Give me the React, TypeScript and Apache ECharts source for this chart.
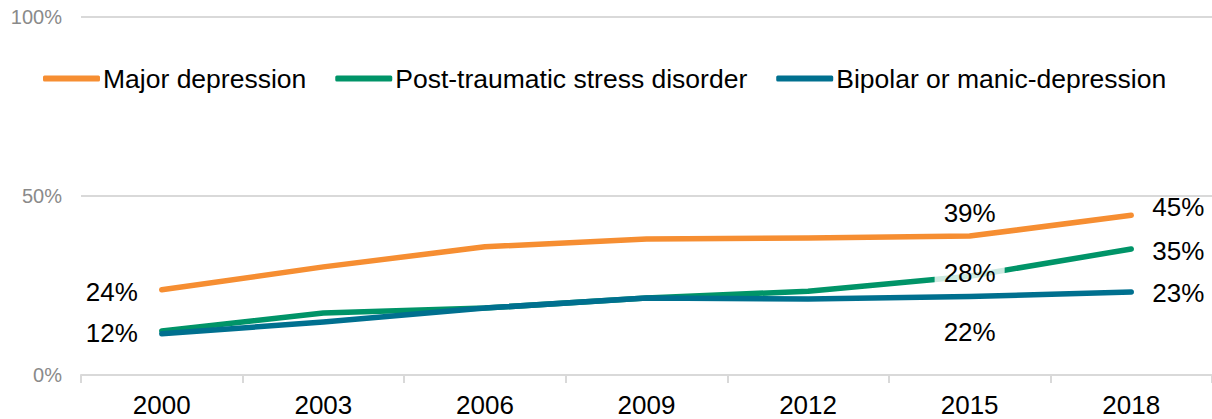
import React, { useEffect, useRef } from "react";
import * as echarts from "echarts";

const years = ["2000", "2003", "2006", "2009", "2012", "2015", "2018"];
const majorDepression = [23.8, 30.2, 35.8, 38, 38.3, 38.8, 44.6];
const ptsd = [12.3, 17.3, 18.7, 21.5, 23.4, 27.6, 35.2];
const bipolar = [11.5, 14.8, 18.7, 21.5, 21.2, 21.9, 23.2];
const seriesNames = ["Major depression", "Post-traumatic stress disorder", "Bipolar or manic-depression"];
const colors = ["#F68E32", "#009468", "#00708F"];
const yTicks = [0, 50, 100];

const FONT = "'Liberation Sans', Arial, sans-serif";

type LabelPos = "left" | "right" | "top" | "bottom" | "inside" | null;

function buildData(values: number[], positions: LabelPos[], extra: any[] = []) {
  return values.map((v, i) => {
    const pos = positions[i];
    if (!pos) return { value: v, label: { show: false } };
    const dist = pos === "left" ? 24 : pos === "right" ? 21 : pos === "top" ? 10 : pos === "bottom" ? 22 : 0;
    return {
      value: v,
      label: {
        show: true,
        position: pos,
        distance: dist,
        formatter: (p: any) => Math.round(p.value) + "%",
        color: "#000",
        fontSize: 26,
        fontFamily: FONT,
        ...(extra[i] || {}),
      },
    };
  });
}

export default function App() {
  const ref = useRef<HTMLDivElement>(null);
  useEffect(() => {
    document.body.style.margin = "0";
    const chart = echarts.init(ref.current!, null, { renderer: "svg" });
    const lineSeries = (name: string, data: any[], color: string, z: number) => ({
      name,
      type: "line",
      data,
      symbol: "circle",
      symbolSize: 0,
      showSymbol: true,
      z,
      lineStyle: { width: 5.5, color, cap: "round", join: "round" },
      itemStyle: { color },
      emphasis: { disabled: true },
    });
    chart.setOption({
      animation: false,
      grid: { left: 81, right: 0, top: 17, bottom: 44 },
      legend: {
        top: 60,
        left: 38,
        itemWidth: 57,
        itemHeight: 6,
        itemGap: 29,
        icon: "roundRect",
        textStyle: { fontSize: 26.5, color: "#000", fontFamily: FONT, padding: [0, 0, 0, -2] },
        data: seriesNames,
      },
      xAxis: {
        type: "category",
        data: years,
        boundaryGap: true,
        axisLine: { lineStyle: { color: "#d9d9d9", width: 2 } },
        axisTick: { show: true, length: 8, lineStyle: { color: "#d9d9d9", width: 2 } },
        axisLabel: { color: "#000", fontSize: 26, fontFamily: FONT, margin: 17 },
      },
      yAxis: {
        type: "value",
        min: yTicks[0],
        max: yTicks[yTicks.length - 1],
        interval: 50,
        axisLine: { show: false },
        axisTick: { show: false },
        splitLine: { lineStyle: { color: "#d9d9d9", width: 2 } },
        axisLabel: { color: "#8a8a8a", fontSize: 20, fontFamily: FONT, margin: 19, formatter: "{value}%" },
      },
      series: [
        lineSeries(
          seriesNames[0],
          buildData(majorDepression, ["left", null, null, null, null, "top", "right"], [
            { offset: [0, 2] }, null, null, null, null, null, { offset: [0, -8] },
          ]),
          colors[0],
          2
        ),
        lineSeries(
          seriesNames[1],
          buildData(ptsd, ["left", null, null, null, null, "inside", "right"], [
            { offset: [0, 2] }, null, null, null, null,
            { backgroundColor: "rgba(255,255,255,0.8)", padding: [0, 9, 0, 9], offset: [0, -3] },
            { offset: [0, 2] },
          ]),
          colors[1],
          3
        ),
        lineSeries(
          seriesNames[2],
          buildData(bipolar, [null, null, null, null, null, "bottom", "right"], [
            null, null, null, null, null, null, { offset: [0, 1] },
          ]),
          colors[2],
          4
        ),
      ],
    });
    return () => chart.dispose();
  }, []);
  return <div ref={ref} style={{ width: 1212, height: 419 }} />;
}
